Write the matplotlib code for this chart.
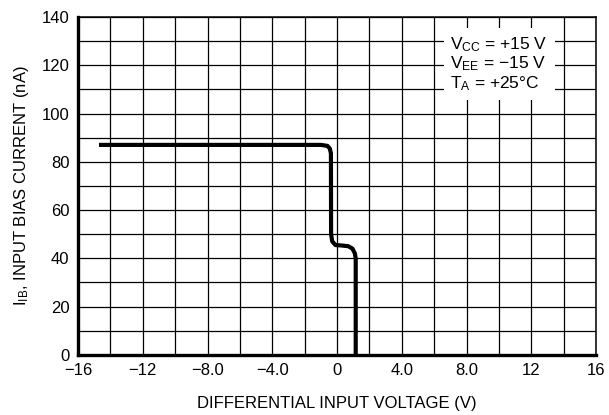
import matplotlib
matplotlib.use("Agg")
from matplotlib import pyplot as plt

# curve
v_diff = [-14.7, -1.0, -0.6, -0.45, -0.38, -0.37, -0.3, -0.1, 0.3, 0.7, 0.95, 1.1, 1.15, 1.15]
i_bias = [87.0, 87.0, 86.6, 85.5, 83.5, 50.0, 47.0, 45.5, 45.3, 45.0, 44.0, 42.0, 40.0, 0.0]

x_ticks = [-16, -12, -8, -4, 0, 4, 8, 12, 16]
x_labels = ["\u221216", "\u221212", "\u22128.0", "\u22124.0", "0", "4.0", "8.0", "12", "16"]
y_ticks = [0, 20, 40, 60, 80, 100, 120, 140]
conditions = "$\\mathregular{V_{CC}}$ = +15 V\n$\\mathregular{V_{EE}}$ = \u221215 V\n$\\mathregular{T_A}$ = +25\u00b0C"

plt.rcParams["font.family"] = ["Liberation Sans", "DejaVu Sans"]

fig = plt.figure(figsize=(6.09, 4.15), dpi=100)
ax = fig.add_axes([0.128, 0.145, 0.851, 0.814])

ax.set_xlim(-16, 16)
ax.set_ylim(0, 140)
ax.set_xticks(range(-16, 17, 2), minor=True)
ax.set_yticks(range(0, 141, 10), minor=True)
ax.set_xticks(x_ticks)
ax.set_xticklabels(x_labels)
ax.set_yticks(y_ticks)
ax.grid(True, which="both", color="black", linewidth=0.9)
ax.tick_params(which="both", length=0, labelsize=12, pad=6)

for side in ["left", "bottom"]:
    ax.spines[side].set_linewidth(2.4)
for side in ["top", "right"]:
    ax.spines[side].set_linewidth(1.1)

ax.plot(v_diff, i_bias, color="black", linewidth=3.0, solid_capstyle="butt", zorder=3)

ax.text(7.0, 132.5, conditions, fontsize=12.5, va="top", ha="left", linespacing=1.05,
        bbox=dict(facecolor="white", edgecolor="none", pad=5), zorder=4)

ax.set_xlabel("DIFFERENTIAL INPUT VOLTAGE (V)", fontsize=12, labelpad=13)
ax.set_ylabel("$\\mathregular{I_{IB}}$, INPUT BIAS CURRENT (nA)", fontsize=12, labelpad=8)

fig.savefig("out.png", dpi=100)
